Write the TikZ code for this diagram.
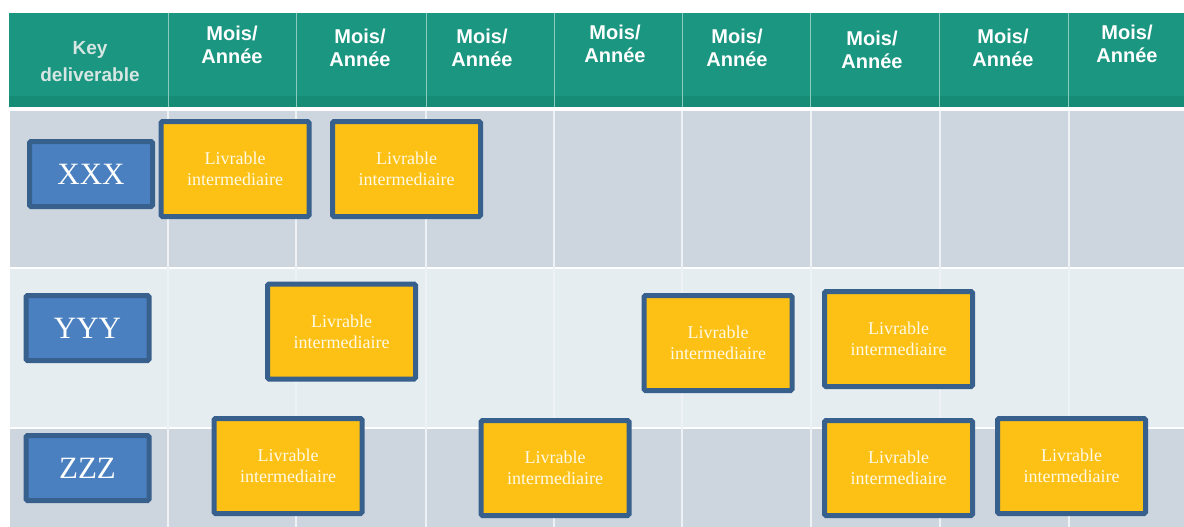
\documentclass[tikz,border=0pt]{standalone}
\usepackage{fontspec}
\setmainfont{Liberation Serif}
\newfontfamily\headfont{Liberation Sans}
\definecolor{headgreen}{HTML}{1B9681}
\definecolor{headstrip}{HTML}{168C77}
\definecolor{headline}{HTML}{8CCBBE}
\definecolor{rowdark}{HTML}{CDD5DE}
\definecolor{rowlight}{HTML}{E6EDF0}
\definecolor{gridline}{HTML}{EEF2F5}
\definecolor{boxedge}{HTML}{38608C}
\definecolor{keyblue}{HTML}{4A80C0}
\definecolor{livyellow}{HTML}{FCC114}
\definecolor{livtext}{HTML}{FFF9E6}
\definecolor{keytext}{HTML}{D6E6E2}
\tikzset{
  headtext/.style={text=white, align=center, inner sep=0pt,
    font=\headfont\bfseries\fontsize{20}{23}\selectfont},
  keyhead/.style={text=keytext, align=center, inner sep=0pt,
    font=\headfont\bfseries\fontsize{19}{27}\selectfont},
  keybox/.style={draw=boxedge, line width=5pt, fill=keyblue, rounded corners=1.5pt,
    minimum width=123pt, minimum height=65pt, inner sep=0pt, text=white,
    font=\fontsize{31}{31}\selectfont},
  livbox/.style={draw=boxedge, line width=5pt, fill=livyellow, rounded corners=1.5pt,
    minimum width=148pt, minimum height=95pt, inner sep=0pt, text=livtext,
    align=center, font=\fontsize{18}{21}\selectfont},
}
\begin{document}
\begin{tikzpicture}[x=1pt,y=-1pt]
\useasboundingbox (0,0) rectangle (1184,527);
\fill[white] (0,0) rectangle (1184,527);

% header band
\fill[headgreen] (9,13) rectangle (1184,107);
\fill[headstrip] (9,96) rectangle (1184,107);
\foreach \x in {168,296,426,554,682,810,939,1068}
  \draw[headline, line width=1pt] (\x,13) -- (\x,107);

% row bands
\fill[rowdark]  (10,111) rectangle (1184,268);
\fill[rowlight] (10,268) rectangle (1184,428);
\fill[rowdark]  (10,428) rectangle (1184,527);
\draw[white, line width=2pt] (10,268) -- (1184,268);
\draw[white, line width=2pt] (10,428) -- (1184,428);
\foreach \x in {168,296,426,554,682,811,940,1069}
  \draw[gridline, line width=2pt] (\x,111) -- (\x,527);

% header labels
\node[keyhead] (hkey) at (90,62) {Key\\deliverable};
\node[headtext] (h1) at (232,45) {Mois/\\Année};
\node[headtext] (h2) at (360,48) {Mois/\\Année};
\node[headtext] (h3) at (482,48) {Mois/\\Année};
\node[headtext] (h4) at (615,44) {Mois/\\Année};
\node[headtext] (h5) at (737,48) {Mois/\\Année};
\node[headtext] (h6) at (872,50) {Mois/\\Année};
\node[headtext] (h7) at (1003,48) {Mois/\\Année};
\node[headtext] (h8) at (1127,44) {Mois/\\Année};

% key deliverables
\node[keybox] (kx) at (91,174)   {XXX};
\node[keybox] (ky) at (87.5,328) {YYY};
\node[keybox] (kz) at (87.5,468) {ZZZ};

% intermediate deliverables
\node[livbox] (x1) at (235,169)     {Livrable\\intermediaire};
\node[livbox] (x2) at (406.5,169)   {Livrable\\intermediaire};
\node[livbox] (y1) at (341.5,331.5) {Livrable\\intermediaire};
\node[livbox] (y2) at (718,343)     {Livrable\\intermediaire};
\node[livbox] (y3) at (898.5,339)   {Livrable\\intermediaire};
\node[livbox] (z1) at (288,466)     {Livrable\\intermediaire};
\node[livbox] (z2) at (555,468)     {Livrable\\intermediaire};
\node[livbox] (z3) at (898.5,468)   {Livrable\\intermediaire};
\node[livbox] (z4) at (1071.5,466)  {Livrable\\intermediaire};
\end{tikzpicture}
\end{document}
